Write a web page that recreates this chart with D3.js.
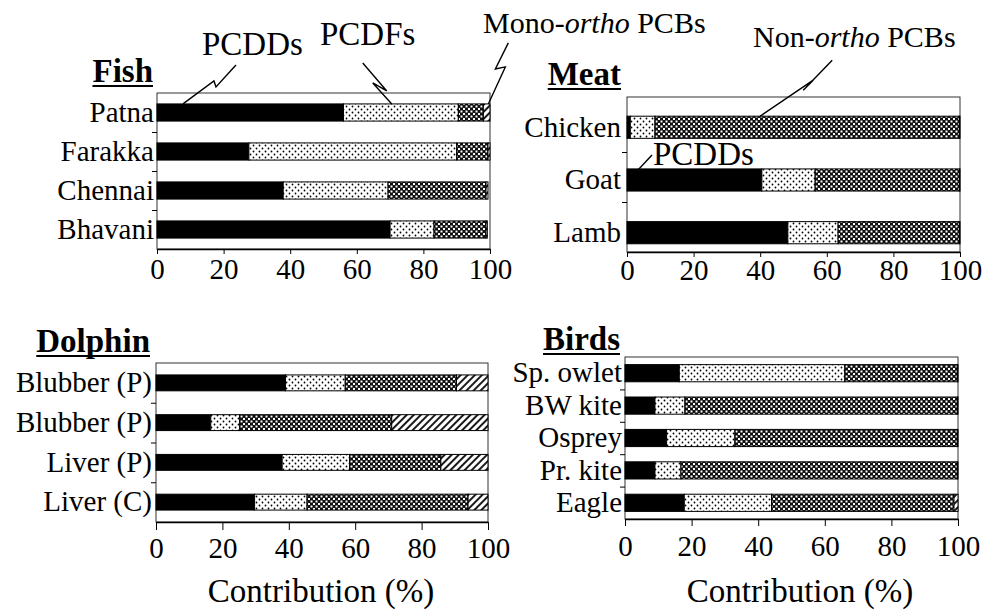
<!DOCTYPE html>
<html>
<head>
<meta charset="utf-8">
<script src="https://cdn.jsdelivr.net/npm/d3@7"></script>
<style>
  body { margin: 0; background: #fff; }
  svg { display: block; font-family: "Liberation Serif", "Times New Roman", serif; }
</style>
</head>
<body>
<svg id="chart" width="989" height="610"></svg>
<script>
// series order in each bar, left to right
const seriesNames = ['PCDDs', 'PCDFs', 'Non-ortho PCBs', 'Mono-ortho PCBs'];
const xTicks = [0, 20, 40, 60, 80, 100];

const fishSites = ['Patna', 'Farakka', 'Chennai', 'Bhavani'];
const fishValues = [
    [56, 34.5, 7.5, 2],
    [27.6, 62.4, 9.4, 0.6],
    [37.9, 31.5, 29.4, 0.6],
    [70, 13.2, 15.6, 0.4]
];

const meatTypes = ['Chicken', 'Goat', 'Lamb'];
const meatValues = [
    [1, 7.4, 91.4, 0.2],
    [40.5, 16, 43.3, 0.2],
    [48.3, 15.1, 36.4, 0.2]
];

const dolphinTissues = ['Blubber (P)', 'Blubber (P)', 'Liver (P)', 'Liver (C)'];
const dolphinValues = [
    [39, 18, 33.5, 9.5],
    [16.5, 8.7, 45.8, 29],
    [38, 20.3, 27.5, 14.2],
    [29.7, 15.8, 48.5, 6]
];

const birdSpecies = ['Sp. owlet', 'BW kite', 'Osprey', 'Pr. kite', 'Eagle'];
const birdValues = [
    [16.3, 49.7, 33.8, 0.2],
    [9, 9, 81.8, 0.2],
    [12.5, 20.5, 66.8, 0.2],
    [9, 7.8, 83, 0.2],
    [17.8, 26.2, 54.8, 1.2]
];

let svg = d3.select('#chart');

//// Patrones de relleno ////
let defs = svg.append('defs');

let dots = defs.append('pattern').attr('id', 'dots')
    .attr('patternUnits', 'userSpaceOnUse').attr('width', 6).attr('height', 6);
dots.append('rect').attr('width', 6).attr('height', 6).attr('fill', '#fff');
dots.append('circle').attr('cx', 1.5).attr('cy', 1.5).attr('r', 0.9).attr('fill', '#000');
dots.append('circle').attr('cx', 4.5).attr('cy', 4.5).attr('r', 0.9).attr('fill', '#000');

let checker = defs.append('pattern').attr('id', 'checker')
    .attr('patternUnits', 'userSpaceOnUse').attr('width', 5).attr('height', 5);
checker.append('rect').attr('width', 5).attr('height', 5).attr('fill', '#111');
checker.append('rect').attr('x', 0.5).attr('y', 0.5).attr('width', 2).attr('height', 2).attr('fill', '#fff');
checker.append('rect').attr('x', 3).attr('y', 3).attr('width', 2).attr('height', 2).attr('fill', '#fff');

let hatch = defs.append('pattern').attr('id', 'hatch')
    .attr('patternUnits', 'userSpaceOnUse').attr('width', 5).attr('height', 5)
    .attr('patternTransform', 'rotate(45)');
hatch.append('rect').attr('width', 5).attr('height', 5).attr('fill', '#fff');
hatch.append('line').attr('x1', 1).attr('x2', 1).attr('y1', 0).attr('y2', 5)
    .attr('stroke', '#000').attr('stroke-width', 1.8);

const fills = ['#000', 'url(#dots)', 'url(#checker)', 'url(#hatch)'];

//// Paneles ////
function drawPanel(cfg) {
    let g = svg.append('g');

    let x = d3.scaleLinear().domain([0, 100]).range([cfg.left, cfg.right]);
    let y = d3.scaleBand().domain(d3.range(cfg.cats.length))
        .range([cfg.top, cfg.bottom])
        .paddingInner(cfg.pad)
        .paddingOuter(cfg.outer != null ? cfg.outer : cfg.pad / 2)
        .align(cfg.align != null ? cfg.align : 0.5);
    let yEdge = d3.scaleLinear().domain([0, cfg.cats.length]).range([cfg.edgeTop || cfg.top, cfg.bottom]);

    // marco
    g.append('rect')
        .attr('x', cfg.left).attr('y', cfg.top)
        .attr('width', cfg.right - cfg.left).attr('height', cfg.bottom - cfg.top)
        .attr('fill', 'none').attr('stroke', '#333').attr('stroke-width', 1);

    // barras apiladas
    cfg.values.forEach(function(row, i) {
        let acc = 0;
        row.forEach(function(v, j) {
            g.append('rect')
                .attr('x', x(acc))
                .attr('y', y(i))
                .attr('width', x(acc + v) - x(acc))
                .attr('height', y.bandwidth())
                .attr('fill', fills[j])
                .attr('stroke', '#000')
                .attr('stroke-width', 1);
            acc += v;
        });
    });

    // eje X
    let xAxis = g.append('g')
        .attr('transform', 'translate(0,' + cfg.bottom + ')')
        .call(d3.axisBottom(x).tickValues(xTicks).tickSize(cfg.tick).tickSizeOuter(0).tickPadding(cfg.numPad));
    xAxis.select('.domain').attr('stroke', '#000').attr('stroke-width', 1.5);
    xAxis.selectAll('.tick line').attr('stroke', '#000');
    xAxis.selectAll('text').attr('font-size', 29).attr('font-family', 'Liberation Serif').attr('fill', '#000');

    // marcas entre categorías
    let yTicks = g.append('g')
        .attr('transform', 'translate(' + cfg.left + ',0)')
        .call(d3.axisLeft(yEdge).tickValues(d3.range(1, cfg.cats.length)).tickSize(5).tickFormat(''));
    yTicks.select('.domain').remove();

    // etiquetas de categoría
    let yLabels = g.append('g')
        .attr('transform', 'translate(' + cfg.left + ',0)')
        .call(d3.axisLeft(y).tickSize(0).tickPadding(cfg.catPad).tickFormat(i => cfg.cats[i]));
    yLabels.select('.domain').remove();
    yLabels.selectAll('text').attr('font-size', 29).attr('font-family', 'Liberation Serif').attr('fill', '#000');

    // título subrayado
    let title = g.append('text')
        .attr('x', cfg.titleX).attr('y', cfg.titleY)
        .attr('text-anchor', 'end')
        .attr('font-size', 33).attr('font-weight', 'bold')
        .text(cfg.title);
    let tw = title.node().getComputedTextLength();
    g.append('line')
        .attr('x1', cfg.titleX - tw).attr('x2', cfg.titleX)
        .attr('y1', cfg.titleY + 4).attr('y2', cfg.titleY + 4)
        .attr('stroke', '#000').attr('stroke-width', 2.2);

    if (cfg.xLabel) {
        g.append('text')
            .attr('x', cfg.xLabelX).attr('y', cfg.xLabelY)
            .attr('text-anchor', 'middle')
            .attr('font-size', 33)
            .text('Contribution (%)');
    }
    return {x: x, y: y, g: g};
}

let fish = drawPanel({cats: fishSites, values: fishValues, title: 'Fish',
    left: 157, right: 490, top: 93, bottom: 249, pad: 0.56, tick: 5, numPad: 4, catPad: 3,
    titleX: 153, titleY: 82});
let meat = drawPanel({cats: meatTypes, values: meatValues, title: 'Meat',
    left: 627, right: 960, top: 97, bottom: 252, pad: 0.58, outer: 0.26, align: 0.7, edgeTop: 102,
    tick: 5, numPad: 2, catPad: 6, titleX: 621, titleY: 85});
let dolphin = drawPanel({cats: dolphinTissues, values: dolphinValues, title: 'Dolphin',
    left: 156, right: 488, top: 363, bottom: 522, pad: 0.6, tick: 8, numPad: 7, catPad: 4,
    titleX: 150, titleY: 352, xLabel: true, xLabelX: 321, xLabelY: 602});
let birds = drawPanel({cats: birdSpecies, values: birdValues, title: 'Birds',
    left: 625, right: 958, top: 357, bottom: 519, pad: 0.47, tick: 7, numPad: 9, catPad: 3,
    titleX: 620, titleY: 350, xLabel: true, xLabelX: 800, xLabelY: 602});

//// Anotaciones (rayos) ////
function bolt(panel, xv, row, offsets) {
    let x0 = panel.x(xv), y0 = panel.y(row);
    let pts = offsets.map(p => [x0 + p[0], y0 + p[1]]);
    svg.append('path')
        .attr('d', d3.line()(pts))
        .attr('fill', 'none').attr('stroke', '#000').attr('stroke-width', 1.4);
}

function label(x, y, parts, size) {
    let t = svg.append('text').attr('x', x).attr('y', y).attr('font-size', size);
    parts.forEach(function(p) {
        t.append('tspan').attr('font-style', p[1] ? 'italic' : 'normal').text(p[0]);
    });
}

bolt(fish, 7.8, 0, [[0, 0], [31, -23], [33, -17], [53, -39]]);
bolt(fish, 70.5, 0, [[0, 0], [-19, -21], [-5, -13], [-29, -41]]);
bolt(fish, 99.5, 0, [[0, 0], [17, -37], [7, -35], [20, -61]]);
bolt(meat, 40, 0, [[0, 0], [53, -36], [43, -26], [72, -56]]);
bolt(meat, 3.3, 1, [[0, 1], [14, -14]]);

label(202, 55, [['PCDDs', false]], 33);
label(320, 45, [['PCDFs', false]], 33);
label(483, 33, [['Mono-', false], ['ortho', true], [' PCBs', false]], 30);
label(753, 47, [['Non-', false], ['ortho', true], [' PCBs', false]], 30);
label(653, 165, [['PCDDs', false]], 33);
</script>
</body>
</html>
